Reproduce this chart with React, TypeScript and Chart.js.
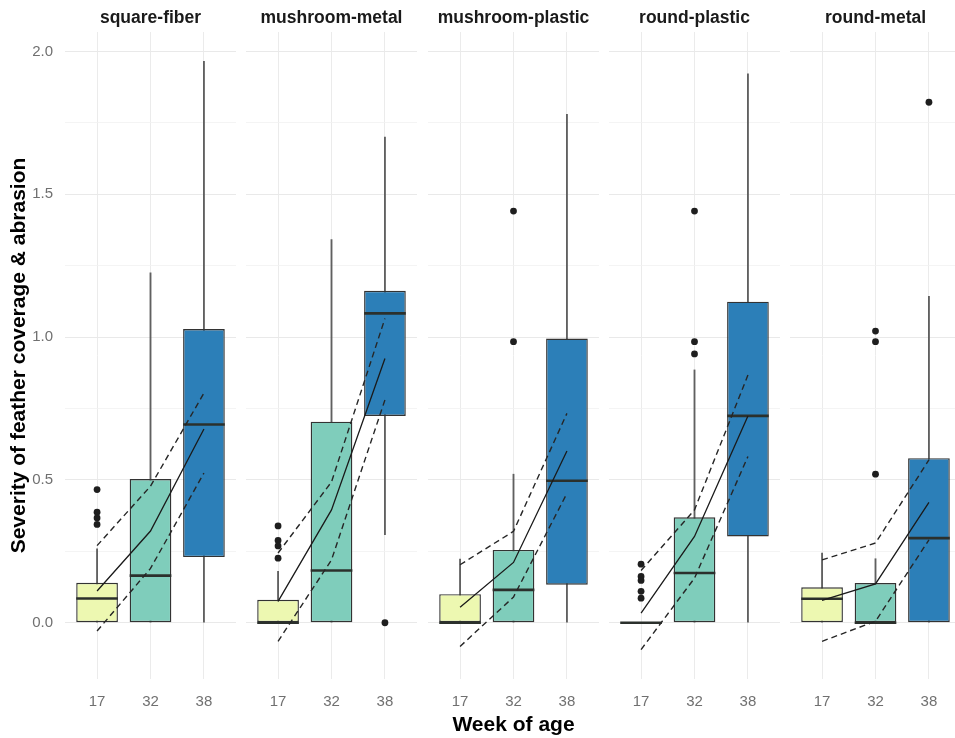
import React, { useEffect, useRef } from 'react';
import { Chart, registerables } from 'chart.js';

Chart.register(...registerables);

const FONT = '"Liberation Sans", Arial, Helvetica, sans-serif';

const panelNames = ['square-fiber', 'mushroom-metal', 'mushroom-plastic', 'round-plastic', 'round-metal'];
const weekLabels = ['17', '32', '38'];
const weekPositions = [1, 2, 3];
const yTickValues = [0, 0.25, 0.5, 0.75, 1, 1.25, 1.5, 1.75, 2];
const boxColors = ['#edf8b1', '#7fcdbb', '#2c7fb8'];

// per panel, per week (17, 32, 38)
const whiskerLow = [
  [0, 0, 0],
  [0, 0, 0.308],
  [0, 0, 0],
  [0, 0, 0],
  [0, 0, 0],
];
const boxQ1 = [
  [0, 0, 0.23],
  [0, 0, 0.724],
  [0, 0, 0.133],
  [0, 0, 0.302],
  [0, 0, 0],
];
const boxMedian = [
  [0.085, 0.165, 0.694],
  [0, 0.183, 1.083],
  [0, 0.115, 0.497],
  [0, 0.174, 0.724],
  [0.084, 0, 0.296],
];
const boxQ3 = [
  [0.14, 0.503, 1.028],
  [0.08, 0.704, 1.162],
  [0.1, 0.255, 0.995],
  [0, 0.369, 1.124],
  [0.124, 0.139, 0.576],
];
const whiskerHigh = [
  [0.259, 1.225, 1.965],
  [0.18, 1.341, 1.7],
  [0.223, 0.52, 1.78],
  [0, 0.885, 1.922],
  [0.244, 0.224, 1.143],
];
// [week index, value]
const outliers = [
  [[0, 0.466], [0, 0.387], [0, 0.367], [0, 0.344]],
  [[0, 0.339], [0, 0.288], [0, 0.269], [0, 0.226], [2, 0]],
  [[1, 0.984], [1, 1.441]],
  [[0, 0.205], [0, 0.162], [0, 0.148], [0, 0.11], [0, 0.086], [1, 1.441], [1, 0.984], [1, 0.941]],
  [[1, 0.52], [1, 0.984], [1, 1.021], [2, 1.822]],
];
const fitMean = [
  [0.111, 0.321, 0.678],
  [0.075, 0.395, 0.925],
  [0.054, 0.211, 0.601],
  [0.034, 0.302, 0.724],
  [0.078, 0.136, 0.421],
];
const fitUpper = [
  [0.27, 0.478, 0.804],
  [0.244, 0.493, 1.065],
  [0.203, 0.32, 0.733],
  [0.183, 0.395, 0.867],
  [0.22, 0.279, 0.57],
];
const fitLower = [
  [-0.029, 0.19, 0.524],
  [-0.065, 0.22, 0.78],
  [-0.083, 0.09, 0.453],
  [-0.094, 0.156, 0.582],
  [-0.065, 0.005, 0.29],
];

const Y_MIN = -0.197;
const Y_MAX = 2.068;
const X_MIN = 0.4;
const X_MAX = 3.6;

const PANEL_W = 171;
const Y_AXIS_W = 65;
const PANEL_STEP = 181.25;
const CANVAS_H = 738;

function canvasLeft(p: number) {
  return p === 0 ? 0 : Math.round(Y_AXIS_W + p * PANEL_STEP);
}
function canvasWidth(p: number) {
  return p === 0 ? Y_AXIS_W + PANEL_W : PANEL_W;
}

function isMajor(v: number) {
  return Math.abs(v * 2 - Math.round(v * 2)) < 1e-6;
}

function makeMedianPlugin(p: number) {
  return {
    id: 'medianLines' + p,
    afterDatasetDraw(chart: any, args: any) {
      if (args.index !== 1) return;
      const ctx = chart.ctx;
      const yScale = chart.scales.y;
      args.meta.data.forEach((el: any, i: number) => {
        const y = yScale.getPixelForValue(boxMedian[p][i]);
        const half = el.width / 2;
        ctx.save();
        ctx.strokeStyle = '#2b302c';
        ctx.lineWidth = 2.6;
        ctx.beginPath();
        ctx.moveTo(el.x - half, y);
        ctx.lineTo(el.x + half, y);
        ctx.stroke();
        ctx.restore();
      });
    },
  };
}

function makeConfig(p: number): any {
  const isFirst = p === 0;
  const isMid = p === 2;
  const pts = (arr: number[][]) => arr[p].map((v, i) => ({ x: weekPositions[i], y: v }));
  return {
    type: 'bar',
    data: {
      datasets: [
        {
          type: 'bar',
          label: 'whisker',
          data: weekPositions.map((x, i) => ({ x, y: [whiskerLow[p][i], whiskerHigh[p][i]] })),
          backgroundColor: '#606060',
          borderWidth: 0,
          barThickness: 1.2,
          grouped: false,
          order: 6,
        },
        {
          type: 'bar',
          label: 'box',
          data: weekPositions.map((x, i) => ({ x, y: [boxQ1[p][i], boxQ3[p][i]] })),
          backgroundColor: boxColors,
          borderColor: '#333333',
          borderWidth: 1.4,
          borderSkipped: false,
          barPercentage: 0.78,
          categoryPercentage: 1,
          grouped: false,
          order: 5,
        },
        {
          type: 'scatter',
          label: 'outliers',
          data: outliers[p].map(([i, v]) => ({ x: weekPositions[i], y: v })),
          pointRadius: 3.4,
          backgroundColor: '#1e1e1e',
          borderWidth: 0,
          order: 4,
        },
        {
          type: 'line',
          label: 'upper',
          data: pts(fitUpper),
          borderColor: '#262626',
          borderWidth: 1.4,
          borderDash: [6, 4],
          pointRadius: 0,
          tension: 0,
          fill: false,
          order: 2,
        },
        {
          type: 'line',
          label: 'lower',
          data: pts(fitLower),
          borderColor: '#262626',
          borderWidth: 1.4,
          borderDash: [6, 4],
          pointRadius: 0,
          tension: 0,
          fill: false,
          order: 2,
        },
        {
          type: 'line',
          label: 'fit',
          data: pts(fitMean),
          borderColor: '#1a1a1a',
          borderWidth: 1.3,
          pointRadius: 0,
          tension: 0,
          fill: false,
          order: 1,
        },
      ],
    },
    options: {
      responsive: false,
      animation: false,
      devicePixelRatio: 1,
      events: [],
      layout: { padding: 0, autoPadding: false },
      plugins: {
        legend: { display: false },
        tooltip: { enabled: false },
        title: {
          display: true,
          text: panelNames[p],
          fullSize: false,
          color: '#1a1a1a',
          font: { family: FONT, size: 17.5, weight: 'bold', lineHeight: 1.2 },
          padding: { top: 8, bottom: 3 },
        },
      },
      scales: {
        x: {
          type: 'linear',
          min: X_MIN,
          max: X_MAX,
          offset: false,
          afterBuildTicks: (s: any) => {
            s.ticks = weekPositions.map((v) => ({ value: v }));
          },
          afterFit: (s: any) => {
            s.height = 59;
          },
          ticks: {
            autoSkip: false,
            maxRotation: 0,
            padding: 14,
            color: '#707070',
            font: { family: FONT, size: 15 },
            callback: (v: number) => {
              const idx = weekPositions.indexOf(v);
              return idx >= 0 ? weekLabels[idx] : '';
            },
          },
          grid: { color: '#ebebeb', lineWidth: 1, drawTicks: false, offset: false },
          border: { display: false },
          title: {
            display: isMid,
            text: 'Week of age',
            color: '#000000',
            font: { family: FONT, size: 21, weight: 'bold', lineHeight: 1.2 },
            padding: { top: 0, bottom: 0.5 },
          },
        },
        y: {
          type: 'linear',
          min: Y_MIN,
          max: Y_MAX,
          afterBuildTicks: (s: any) => {
            s.ticks = yTickValues.map((v) => ({ value: v }));
          },
          afterFit: (s: any) => {
            s.width = isFirst ? Y_AXIS_W : 0;
          },
          ticks: {
            display: isFirst,
            padding: 12,
            color: '#707070',
            font: { family: FONT, size: 15 },
            callback: (v: number) => (isMajor(v) ? v.toFixed(1) : ''),
          },
          grid: {
            drawTicks: false,
            color: (ctx: any) => (isMajor(ctx.tick ? ctx.tick.value : 0) ? '#e9e9e9' : '#f1f1f1'),
            lineWidth: (ctx: any) => (isMajor(ctx.tick ? ctx.tick.value : 0) ? 1.1 : 0.8),
          },
          border: { display: false },
          title: {
            display: isFirst,
            text: 'Severity of feather coverage & abrasion',
            color: '#000000',
            font: { family: FONT, size: 21, weight: 'bold', lineHeight: 1.2 },
            padding: { top: 7, bottom: 0 },
          },
        },
      },
    },
    plugins: [makeMedianPlugin(p)],
  };
}

export default function App() {
  const refs = useRef<(HTMLCanvasElement | null)[]>([]);

  useEffect(() => {
    const charts: Chart[] = [];
    panelNames.forEach((_, p) => {
      const c = refs.current[p];
      if (c) charts.push(new Chart(c, makeConfig(p)));
    });
    return () => {
      charts.forEach((ch) => ch.destroy());
    };
  }, []);

  return (
    <div
      style={{
        position: 'absolute',
        left: 0,
        top: 0,
        width: 955,
        height: CANVAS_H,
        overflow: 'hidden',
        background: '#ffffff',
      }}
    >
      {panelNames.map((name, p) => (
        <canvas
          key={name}
          ref={(el) => {
            refs.current[p] = el;
          }}
          width={canvasWidth(p)}
          height={CANVAS_H}
          style={{
            position: 'absolute',
            left: canvasLeft(p),
            top: 0,
            width: canvasWidth(p),
            height: CANVAS_H,
          }}
        />
      ))}
    </div>
  );
}
